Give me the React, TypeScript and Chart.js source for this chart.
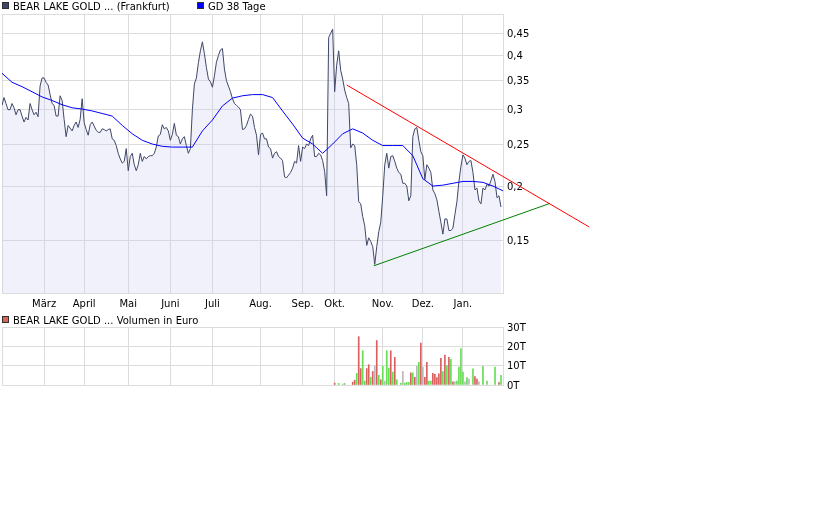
import { useEffect, useRef } from 'react';
import { Chart, registerables } from 'chart.js';

Chart.register(...registerables);

const FONT_FAMILY = '"DejaVu Sans", Verdana, sans-serif';

// x axis: trading-day index, month starts
const monthLabels = ['März', 'April', 'Mai', 'Juni', 'Juli', 'Aug.', 'Sep.', 'Okt.', 'Nov.', 'Dez.', 'Jan.'];
const monthStartDays = [21, 41, 63, 84, 105, 129, 150, 166, 190, 210, 230];
const lastDay = 250;

// daily closing prices (EUR), Frankfurt
const closePrices = [
  0.307, 0.32, 0.31, 0.30, 0.30, 0.31, 0.303, 0.292, 0.30, 0.30,
  0.29, 0.281, 0.288, 0.284, 0.31, 0.30, 0.292, 0.296, 0.289, 0.34,
  0.355, 0.355, 0.347, 0.342, 0.325, 0.31, 0.307, 0.29, 0.29, 0.323,
  0.315, 0.285, 0.26, 0.276, 0.272, 0.268, 0.276, 0.281, 0.273, 0.285,
  0.318, 0.28, 0.27, 0.262, 0.277, 0.281, 0.275, 0.269, 0.266, 0.266,
  0.271, 0.27, 0.268, 0.27, 0.271, 0.257, 0.255, 0.248, 0.238, 0.231,
  0.226, 0.228, 0.244, 0.217, 0.234, 0.238, 0.224, 0.217, 0.224, 0.238,
  0.228, 0.234, 0.231, 0.234, 0.235, 0.235, 0.238, 0.246, 0.261, 0.263,
  0.277, 0.271, 0.273, 0.268, 0.255, 0.263, 0.279, 0.262, 0.26, 0.25,
  0.257, 0.26, 0.248, 0.238, 0.244, 0.30, 0.344, 0.355, 0.385, 0.41,
  0.43, 0.404, 0.375, 0.353, 0.348, 0.338, 0.359, 0.386, 0.40, 0.412,
  0.415, 0.372, 0.35, 0.34, 0.33, 0.318, 0.31, 0.307, 0.304, 0.30,
  0.27, 0.271, 0.276, 0.285, 0.293, 0.29, 0.273, 0.262, 0.236, 0.263,
  0.265, 0.257, 0.257, 0.246, 0.244, 0.232, 0.238, 0.24, 0.234, 0.232,
  0.229, 0.21, 0.209, 0.212, 0.215, 0.22, 0.228, 0.226, 0.248, 0.228,
  0.246, 0.244, 0.25, 0.248, 0.257, 0.262, 0.234, 0.234, 0.238, 0.236,
  0.229, 0.216, 0.19, 0.44, 0.45, 0.46, 0.33, 0.38, 0.41, 0.37,
  0.353, 0.333, 0.32, 0.31, 0.245, 0.25, 0.248, 0.224, 0.184, 0.182,
  0.17, 0.162, 0.146, 0.152, 0.149, 0.145, 0.132, 0.145, 0.157, 0.165,
  0.19, 0.224, 0.238, 0.22, 0.234, 0.235, 0.228, 0.22, 0.215, 0.213,
  0.203, 0.203, 0.20, 0.185, 0.19, 0.26, 0.271, 0.273, 0.255, 0.24,
  0.235, 0.207, 0.224, 0.22, 0.215, 0.196, 0.192, 0.186, 0.175, 0.165,
  0.155, 0.168, 0.168, 0.158, 0.158, 0.16, 0.172, 0.184, 0.205, 0.222,
  0.236, 0.232, 0.224, 0.228, 0.229, 0.215, 0.196, 0.198, 0.185, 0.182,
  0.198, 0.196, 0.202, 0.20, 0.206, 0.213, 0.205, 0.188, 0.19, 0.179,
];

// 38-day moving average, sampled every 5th trading day
const ma38Step = 5;
const ma38Values = [
  0.364, 0.347, 0.339, 0.33, 0.321, 0.315, 0.308, 0.303, 0.301, 0.298,
  0.294, 0.29, 0.276, 0.264, 0.255, 0.25, 0.247, 0.246, 0.246, 0.246,
  0.268, 0.284, 0.306, 0.319, 0.323, 0.325, 0.325, 0.32, 0.298, 0.278,
  0.258, 0.25, 0.238, 0.25, 0.264, 0.271, 0.265, 0.255, 0.248, 0.248,
  0.248, 0.235, 0.208, 0.2, 0.201, 0.203, 0.205, 0.205, 0.204, 0.2,
  0.195,
];

const priceTicks = [0.15, 0.2, 0.25, 0.3, 0.35, 0.4, 0.45];
const priceMin = 0.1134;
const priceMax = 0.4985;

// hand-drawn trend lines (day index, price)
const resistanceDays = [172, 293];
const resistancePrices = [0.342, 0.161];
const supportDays = [185.5, 273.5];
const supportPrices = [0.131, 0.1825];

// volume in euro
const volumeDays = [
  166, 168, 170, 171, 175, 176, 177, 178, 179, 180, 181, 182, 183, 184, 185, 186, 187, 188, 189, 190,
  191, 192, 193, 194, 195, 196, 197, 199, 200, 201, 202, 203, 204, 205, 206, 207, 208, 209, 210, 211,
  212, 213, 214, 215, 216, 217, 218, 219, 220, 221, 222, 223, 224, 225, 226, 227, 228, 229, 230, 231,
  232, 233, 235, 236, 237, 238, 240, 242, 246, 248, 249,
];
const volumeEuro = [
  1000, 800, 500, 800, 1500, 2500, 6000, 25000, 8500, 17700, 2000, 8500, 10500, 4000, 7000, 9700, 23000, 5000, 2700, 9700,
  2000, 17700, 8800, 17700, 6700, 14300, 2700, 1000, 7000, 1000, 1300, 1300, 6300, 6300, 4000, 9700, 11700, 21700, 9300, 4000,
  11700, 2000, 2000, 6000, 5500, 3800, 5800, 13800, 7000, 15500, 10000, 14300, 13300, 1700, 1700, 2000, 9300, 18800, 6700, 1700,
  3800, 3000, 8300, 4300, 3000, 1700, 9700, 2000, 9300, 1300, 5000,
];
// r = falling, g = rising, n = unchanged
const volumeDirection = [
  'r', 'g', 'n', 'g', 'r', 'r', 'g', 'r', 'r', 'g', 'g', 'r', 'r', 'g', 'r', 'n', 'r', 'g', 'r', 'g',
  'n', 'g', 'g', 'r', 'g', 'r', 'g', 'g', 'n', 'g', 'g', 'g', 'r', 'g', 'r', 'n', 'g', 'r', 'n', 'r',
  'r', 'g', 'g', 'r', 'r', 'r', 'r', 'r', 'g', 'r', 'g', 'r', 'g', 'r', 'n', 'g', 'g', 'g', 'g', 'n',
  'g', 'n', 'g', 'r', 'r', 'n', 'g', 'g', 'g', 'r', 'g',
];
const volumeTicks = [0, 10000, 20000, 30000];

const GRID = '#dcdcdc';
const tickFont = { family: FONT_FAMILY, size: 10 };

function framePlugin() {
  return {
    id: 'frame',
    beforeDatasetsDraw(chart: any) {
      const { ctx, chartArea: a } = chart;
      ctx.save();
      ctx.strokeStyle = GRID;
      ctx.lineWidth = 1;
      ctx.beginPath();
      ctx.moveTo(a.left + 0.5, a.bottom);
      ctx.lineTo(a.left + 0.5, a.top + 0.5);
      ctx.lineTo(a.right, a.top + 0.5);
      ctx.stroke();
      ctx.restore();
    },
  };
}

function legendPlugin(items: { text: string; color: string; x: number; y: number }[]) {
  return {
    id: 'boxLegend',
    afterDraw(chart: any) {
      const ctx = chart.ctx;
      ctx.save();
      ctx.font = `10px ${FONT_FAMILY}`;
      ctx.textBaseline = 'alphabetic';
      ctx.textAlign = 'left';
      for (const it of items) {
        ctx.fillStyle = it.color;
        ctx.fillRect(it.x, it.y, 7, 7);
        ctx.strokeStyle = '#303030';
        ctx.lineWidth = 1;
        ctx.strokeRect(it.x + 0.5, it.y + 0.5, 6, 6);
        ctx.fillStyle = '#000';
        ctx.fillText(it.text, it.x + 11, it.y + 8);
      }
      ctx.restore();
    },
  };
}

export default function App() {
  const priceRef = useRef<HTMLCanvasElement>(null);
  const volRef = useRef<HTMLCanvasElement>(null);

  useEffect(() => {
    document.body.style.margin = '0';
    const priceLabel = 'BEAR LAKE GOLD ... (Frankfurt)';
    const maLabel = 'GD 38 Tage';
    const priceColor = '#3f4766';
    const maColor = '#0000ff';

    const priceChart = new Chart(priceRef.current as HTMLCanvasElement, {
      type: 'line',
      data: {
        datasets: [
          {
            label: 'Widerstand',
            data: resistanceDays.map((d, i) => ({ x: d, y: resistancePrices[i] })),
            borderColor: '#ff0000',
            borderWidth: 1,
            pointRadius: 0,
            fill: false,
            clip: false,
          } as any,
          {
            label: 'Unterstützung',
            data: supportDays.map((d, i) => ({ x: d, y: supportPrices[i] })),
            borderColor: '#008000',
            borderWidth: 1,
            pointRadius: 0,
            fill: false,
            clip: false,
          },
          {
            label: maLabel,
            data: ma38Values.map((v, i) => ({ x: i * ma38Step, y: v })),
            borderColor: maColor,
            borderWidth: 1,
            pointRadius: 0,
            fill: false,
          },
          {
            label: priceLabel,
            data: closePrices.map((v, i) => ({ x: i, y: v })),
            borderColor: priceColor,
            borderWidth: 1,
            pointRadius: 0,
            fill: 'start',
            backgroundColor: 'rgba(200,200,240,0.25)',
          },
        ],
      },
      options: {
        responsive: false,
        animation: false,
        devicePixelRatio: 1,
        events: [],
        layout: { padding: { top: 14, left: 2, right: 297, bottom: 0 } },
        plugins: { legend: { display: false }, tooltip: { enabled: false } },
        elements: { line: { tension: 0 } },
        scales: {
          x: {
            type: 'linear',
            min: 0,
            max: lastDay,
            offset: false,
            afterBuildTicks: (s: any) => {
              s.ticks = monthStartDays.map((v) => ({ value: v }));
            },
            afterFit: (s: any) => {
              s.height = 17;
            },
            ticks: {
              autoSkip: false,
              maxRotation: 0,
              padding: 5,
              color: '#000',
              font: tickFont,
              callback: (_v: any, i: number) => monthLabels[i],
            },
            grid: { color: GRID, drawTicks: false, offset: false },
            border: { color: GRID },
          },
          y: {
            type: 'logarithmic',
            position: 'right',
            min: priceMin,
            max: priceMax,
            bounds: 'data',
            afterBuildTicks: (s: any) => {
              s.ticks = priceTicks.map((v) => ({ value: v }));
            },
            afterFit: (s: any) => {
              s.width = 40;
            },
            ticks: {
              autoSkip: false,
              padding: 4,
              labelOffset: 1,
              color: '#000',
              font: tickFont,
              callback: (v: any) => String(v).replace('.', ','),
            },
            grid: { color: GRID, drawTicks: false },
            border: { color: GRID },
          },
        },
      } as any,
      plugins: [
        framePlugin(),
        legendPlugin([
          { text: priceLabel, color: priceColor, x: 2, y: 2 },
          { text: maLabel, color: maColor, x: 197, y: 2 },
        ]),
      ],
    });

    const dirColors: Record<string, string> = { r: '#d96060', g: '#66dd55', n: '#b8b8b8' };
    const volLabel = 'BEAR LAKE GOLD ... Volumen in Euro';
    const volChart = new Chart(volRef.current as HTMLCanvasElement, {
      type: 'bar',
      data: {
        datasets: [
          {
            label: volLabel,
            data: volumeDays.map((d, i) => ({ x: d, y: volumeEuro[i] })),
            backgroundColor: volumeDirection.map((c) => dirColors[c]),
            barThickness: 1,
            borderWidth: 0,
          } as any,
        ],
      },
      options: {
        responsive: false,
        animation: false,
        devicePixelRatio: 1,
        events: [],
        layout: { padding: { top: 17, left: 2, right: 297, bottom: 8 } },
        plugins: { legend: { display: false }, tooltip: { enabled: false } },
        scales: {
          x: {
            type: 'linear',
            min: 0,
            max: lastDay,
            offset: false,
            afterBuildTicks: (s: any) => {
              s.ticks = monthStartDays.map((v) => ({ value: v }));
            },
            afterFit: (s: any) => {
              s.height = 0;
            },
            ticks: { display: false },
            grid: { color: GRID, drawTicks: false, offset: false },
            border: { color: GRID },
          },
          y: {
            position: 'right',
            min: 0,
            max: 30000,
            afterBuildTicks: (s: any) => {
              s.ticks = volumeTicks.map((v) => ({ value: v }));
            },
            afterFit: (s: any) => {
              s.width = 40;
            },
            ticks: {
              autoSkip: false,
              padding: 4,
              labelOffset: 1,
              color: '#000',
              font: tickFont,
              callback: (v: any) => `${Number(v) / 1000}T`,
            },
            grid: { color: GRID, drawTicks: false },
            border: { color: GRID },
          },
        },
      } as any,
      plugins: [framePlugin(), legendPlugin([{ text: volLabel, color: '#d9645c', x: 2, y: 6 }])],
    });

    return () => {
      priceChart.destroy();
      volChart.destroy();
    };
  }, []);

  return (
    <div style={{ position: 'relative', width: 840, height: 525, background: '#fff', overflow: 'hidden' }}>
      <canvas ref={priceRef} width={840} height={310} style={{ position: 'absolute', left: 0, top: 0 }} />
      <canvas ref={volRef} width={840} height={85} style={{ position: 'absolute', left: 0, top: 310 }} />
    </div>
  );
}
